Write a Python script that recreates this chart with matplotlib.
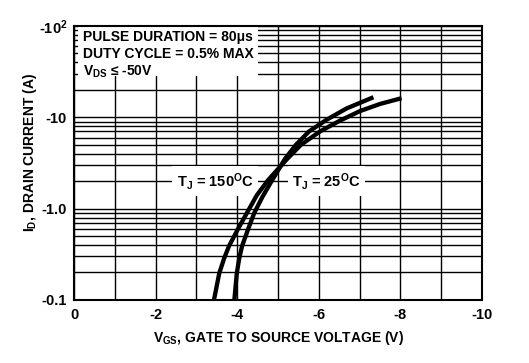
import matplotlib
matplotlib.use("Agg")
import matplotlib.pyplot as plt
from matplotlib.patches import Rectangle
from matplotlib.ticker import FixedLocator, LogLocator, NullFormatter

plt.rcParams['font.family'] = ['Liberation Sans', 'DejaVu Sans']
plt.rcParams['font.weight'] = 'bold'
plt.rcParams['mathtext.fontset'] = 'custom'
plt.rcParams['mathtext.rm'] = 'Liberation Sans:bold'
plt.rcParams['mathtext.it'] = 'Liberation Sans:bold'
plt.rcParams['mathtext.bf'] = 'Liberation Sans:bold'
plt.rcParams['mathtext.default'] = 'regular'

# |V_GS| (V) and |I_D| (A)
vgs_150 = [3.43, 3.56, 3.68, 3.80, 4.02, 4.24, 4.48, 4.76, 5.20, 5.56, 6.03, 6.52, 7.01, 7.50, 8.03]
id_150 = [0.10, 0.196, 0.286, 0.39, 0.60, 0.90, 1.40, 2.06, 3.41, 4.99, 7.0, 9.2, 11.7, 14.0, 16.2]
vgs_25 = [3.93, 3.99, 4.05, 4.12, 4.27, 4.42, 4.62, 4.86, 5.17, 5.44, 5.76, 6.19, 6.68, 7.34]
id_25 = [0.10, 0.196, 0.286, 0.39, 0.60, 0.90, 1.35, 2.06, 3.50, 5.0, 7.0, 9.4, 12.5, 16.6]

x_ticks = [0, 2, 4, 6, 8, 10]
x_labels = ['0', '-2', '-4', '-6', '-8', '-10']
y_ticks = [0.1, 1.0, 10, 100]
y_labels = ['-0.1', '-1.0', '-10', '-10$^2$']

fig = plt.figure(figsize=(5.29, 3.63), dpi=100)
ax = fig.add_axes([0.140, 0.1736, 0.771, 0.7548])
ax.set_yscale('log')
ax.set_xlim(0, 10)
ax.set_ylim(0.1, 100)

ax.xaxis.set_major_locator(FixedLocator(x_ticks))
ax.xaxis.set_minor_locator(FixedLocator(range(0, 11)))
ax.set_xticklabels(x_labels)
ax.yaxis.set_major_locator(FixedLocator(y_ticks))
ax.yaxis.set_minor_locator(LogLocator(base=10, subs=range(2, 10)))
ax.yaxis.set_minor_formatter(NullFormatter())
ax.set_yticklabels(y_labels)

ax.grid(True, which='both', color='black', linewidth=1.0)
ax.tick_params(which='both', length=0, labelsize=10.5)
ax.tick_params(axis='x', pad=6)
ax.tick_params(axis='y', pad=5)
for lab in ax.get_xticklabels() + ax.get_yticklabels():
    lab.set_fontweight('bold')
for s in ax.spines.values():
    s.set_linewidth(1.5)
    s.set_zorder(7)

ax.plot(vgs_150, id_150, color='black', lw=3.1, solid_capstyle='butt', zorder=5)
ax.plot(vgs_25, id_25, color='black', lw=3.1, solid_capstyle='butt', zorder=5)

ax.set_xlabel('V$_{GS}$, GATE TO SOURCE VOLTAGE (V)', fontsize=10, fontweight='bold')
ax.set_ylabel('I$_D$, DRAIN CURRENT (A)', fontsize=10, fontweight='bold')
ax.xaxis.set_label_coords(0.5, -0.105)
ax.yaxis.set_label_coords(-0.086, 0.54)

# condition box
ax.add_patch(Rectangle((0.01, 0.818), 0.441, 0.182, transform=ax.transAxes,
                       fc='white', ec='none', zorder=6))
ax.text(0.022, 0.985, 'PULSE DURATION = 80\u03bcs\nDUTY CYCLE = 0.5% MAX\nV$_{DS}$ \u2264 -50V',
        transform=ax.transAxes, ha='left', va='top', fontsize=10, fontweight='bold',
        linespacing=1.22, zorder=6.5)

ax.text(4.4, 2.0, 'T$_J$ = 150$^O$C', ha='right', va='center', fontsize=10.5, fontweight='bold',
        zorder=4, bbox=dict(boxstyle='square,pad=0.3', fc='white', ec='none'))
ax.text(5.35, 2.0, 'T$_J$ = 25$^O$C', ha='left', va='center', fontsize=10.5, fontweight='bold',
        zorder=4, bbox=dict(boxstyle='square,pad=0.3', fc='white', ec='none'))

fig.savefig('out.png', dpi=100, facecolor='white')
